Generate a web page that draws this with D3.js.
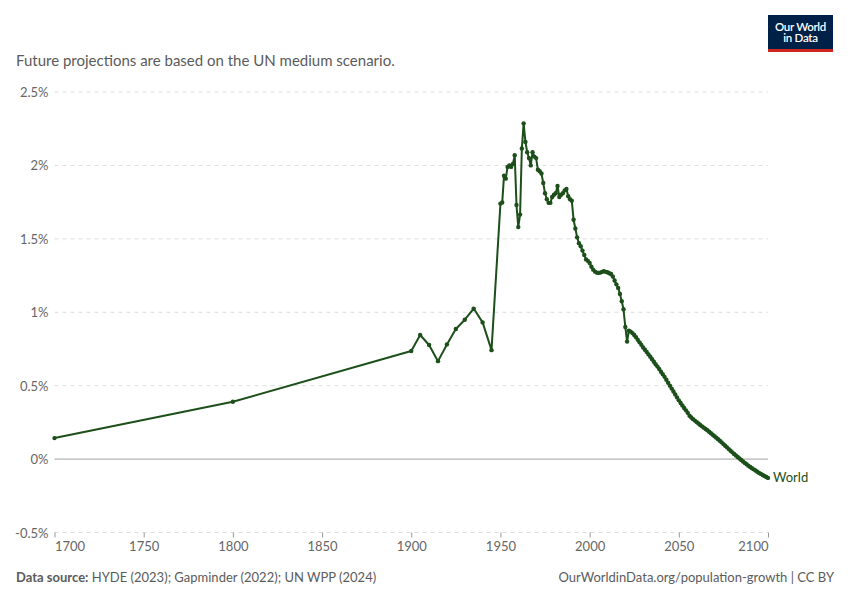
<!DOCTYPE html>
<html>
<head>
<meta charset="utf-8">
<script src="https://cdn.jsdelivr.net/npm/d3@7"></script>
<style>
  body { margin: 0; background: #fff; }
  svg { font-family: Lato, "Open Sans", sans-serif; }
</style>
</head>
<body>
<svg id="chart" width="850" height="600"></svg>
<script>
// ---- Data (annual population growth rate, %, World) ----
const years = [
  1700, 1800, 1900, 1905, 1910, 1915, 1920, 1925, 1930, 1935, 1940, 1945,
  1950, 1951, 1952, 1953, 1954, 1955, 1956, 1957, 1958, 1959,
  1960, 1961, 1962, 1963, 1964, 1965, 1966, 1967, 1968, 1969,
  1970, 1971, 1972, 1973, 1974, 1975, 1976, 1977, 1978, 1979,
  1980, 1981, 1982, 1983, 1984, 1985, 1986, 1987, 1988, 1989,
  1990, 1991, 1992, 1993, 1994, 1995, 1996, 1997, 1998, 1999,
  2000, 2001, 2002, 2003, 2004, 2005, 2006, 2007, 2008, 2009,
  2010, 2011, 2012, 2013, 2014, 2015, 2016, 2017, 2018, 2019,
  2020, 2021, 2022, 2023, 2024, 2025, 2026, 2027, 2028, 2029,
  2030, 2031, 2032, 2033, 2034, 2035, 2036, 2037, 2038, 2039,
  2040, 2041, 2042, 2043, 2044, 2045, 2046, 2047, 2048, 2049,
  2050, 2051, 2052, 2053, 2054, 2055, 2056, 2057, 2058, 2059,
  2060, 2061, 2062, 2063, 2064, 2065, 2066, 2067, 2068, 2069,
  2070, 2071, 2072, 2073, 2074, 2075, 2076, 2077, 2078, 2079,
  2080, 2081, 2082, 2083, 2084, 2085, 2086, 2087, 2088, 2089,
  2090, 2091, 2092, 2093, 2094, 2095, 2096, 2097, 2098, 2099,
  2100
];
const growth = [
  0.143, 0.39, 0.736, 0.845, 0.777, 0.667, 0.781, 0.886, 0.949, 1.025, 0.931, 0.742,
  1.74, 1.747, 1.93, 1.91, 1.99, 2.00, 1.99, 2.01, 2.07, 1.73,
  1.58, 1.665, 2.115, 2.286, 2.16, 2.09, 2.05, 2.00, 2.09, 2.06,
  2.05, 1.97, 1.96, 1.945, 1.88, 1.81, 1.77, 1.745, 1.745, 1.785,
  1.80, 1.81, 1.86, 1.785, 1.80, 1.81, 1.83, 1.84, 1.79, 1.77,
  1.76, 1.63, 1.57, 1.51, 1.47, 1.45, 1.42, 1.39, 1.36, 1.35,
  1.335, 1.31, 1.29, 1.277, 1.27, 1.268, 1.27, 1.275, 1.28, 1.275,
  1.272, 1.266, 1.26, 1.243, 1.216, 1.19, 1.166, 1.125, 1.075, 1.02,
  0.90, 0.80, 0.874, 0.868, 0.858, 0.845, 0.83, 0.812, 0.795, 0.778,
  0.76, 0.745, 0.73, 0.713, 0.697, 0.68, 0.663, 0.646, 0.63, 0.613,
  0.595, 0.578, 0.56, 0.54, 0.52, 0.50, 0.48, 0.46, 0.44, 0.42,
  0.40, 0.382, 0.365, 0.348, 0.332, 0.315, 0.295, 0.283, 0.272, 0.262,
  0.252, 0.242, 0.232, 0.223, 0.214, 0.205, 0.196, 0.186, 0.176, 0.166,
  0.156, 0.146, 0.135, 0.125, 0.114, 0.102, 0.091, 0.08, 0.068, 0.057,
  0.046, 0.035, 0.024, 0.014, 0.004, -0.006, -0.016, -0.026, -0.035, -0.045,
  -0.054, -0.062, -0.07, -0.078, -0.086, -0.094, -0.101, -0.108, -0.115, -0.122,
  -0.128
];
const seriesName = "World";
const yTicks = [-0.5, 0, 0.5, 1, 1.5, 2, 2.5];
const yTickLabels = ["-0.5%", "0%", "0.5%", "1%", "1.5%", "2%", "2.5%"];
const xTicks = [1700, 1750, 1800, 1850, 1900, 1950, 2000, 2050, 2100];
const subtitle = "Future projections are based on the UN medium scenario.";
const sourceLabel = "Data source:";
const sourceText = " HYDE (2023); Gapminder (2022); UN WPP (2024)";
const urlText = "OurWorldinData.org/population-growth | CC BY";
const logoLines = ["Our World", "in Data"];

const data = years.map((yr, i) => ({ year: yr, value: growth[i] }));

// ---- Layout ----
const svg = d3.select("#chart");
const plotLeft = 54.5, plotRight = 768, plotTop = 92, plotBottom = 532.5;
const lineColor = "#1c4f1a";
const textGray = "#5b5b5b";
const tickGray = "#666";

const x = d3.scaleLinear().domain([1700, 2100]).range([plotLeft, plotRight]);
const y = d3.scaleLinear().domain([-0.5, 2.5]).range([plotBottom, plotTop]);

// Subtitle
svg.append("text").attr("x", 16).attr("y", 66)
  .attr("font-size", 15).attr("fill", textGray).text(subtitle);

// Logo
const logo = svg.append("g");
logo.append("rect").attr("x", 768).attr("y", 15).attr("width", 65).attr("height", 37).attr("fill", "#002147");
logo.append("rect").attr("x", 768).attr("y", 49).attr("width", 65).attr("height", 3).attr("fill", "#ce261e");
const logoText = logo.append("text").attr("text-anchor", "middle")
  .attr("font-size", 11.5).attr("font-weight", 600).attr("fill", "#fff").attr("letter-spacing", -0.3);
logoText.selectAll("tspan").data(logoLines).join("tspan")
  .attr("x", 800.5).attr("y", (d, i) => 30.5 + i * 11.5).text(d => d);

// Gridlines
svg.append("g").selectAll("line").data(yTicks).join("line")
  .attr("x1", plotLeft).attr("x2", plotRight)
  .attr("y1", d => y(d)).attr("y2", d => y(d))
  .attr("stroke", d => d === 0 ? "#a1a1a1" : "#dddddd")
  .attr("stroke-width", 1)
  .attr("stroke-dasharray", d => d === 0 ? null : "4,4");

// Y labels
const yAxis = d3.axisLeft(y).tickValues(yTicks).tickSize(0)
  .tickFormat((d, i) => yTickLabels[i]);
const yg = svg.append("g").attr("transform", `translate(${plotLeft - 6},0)`).call(yAxis);
yg.select(".domain").remove();
yg.selectAll("text").attr("font-size", 13).attr("fill", tickGray)
  .attr("font-family", "Lato, sans-serif").attr("dy", "0.35em").attr("x", 0);

// X axis
const xAxis = d3.axisBottom(x).tickValues(xTicks).tickSize(5).tickFormat(d3.format("d"));
const xg = svg.append("g").attr("transform", `translate(0,${plotBottom})`).call(xAxis);
xg.select(".domain").remove();
xg.selectAll(".tick line").attr("stroke", "#999");
xg.selectAll("text").attr("font-size", 13).attr("fill", tickGray)
  .attr("font-family", "Lato, sans-serif").attr("y", 9).attr("dy", "0.71em");
xg.selectAll(".tick").filter(d => d === 1700).select("text").attr("text-anchor", "start").attr("x", 0);
xg.selectAll(".tick").filter(d => d === 2100).select("text").attr("text-anchor", "end").attr("x", 0);

// Line
const line = d3.line().x(d => x(d.year)).y(d => y(d.value));
svg.append("path").datum(data).attr("d", line)
  .attr("fill", "none").attr("stroke", lineColor).attr("stroke-width", 2)
  .attr("stroke-linejoin", "round");

svg.append("g").selectAll("circle").data(data).join("circle")
  .attr("cx", d => x(d.year)).attr("cy", d => y(d.value)).attr("r", 2.2)
  .attr("fill", lineColor);

// Series label
const last = data[data.length - 1];
svg.append("text").attr("x", x(last.year) + 5).attr("y", y(last.value)).attr("dy", "0.35em")
  .attr("font-size", 13).attr("fill", lineColor).text(seriesName);

// Footer
const src = svg.append("text").attr("x", 16).attr("y", 582).attr("font-size", 13).attr("fill", textGray);
src.append("tspan").attr("font-weight", 700).text(sourceLabel);
src.append("tspan").text(sourceText);
svg.append("text").attr("x", 834).attr("y", 582).attr("text-anchor", "end")
  .attr("font-size", 13).attr("fill", textGray).text(urlText);
</script>
</body>
</html>
